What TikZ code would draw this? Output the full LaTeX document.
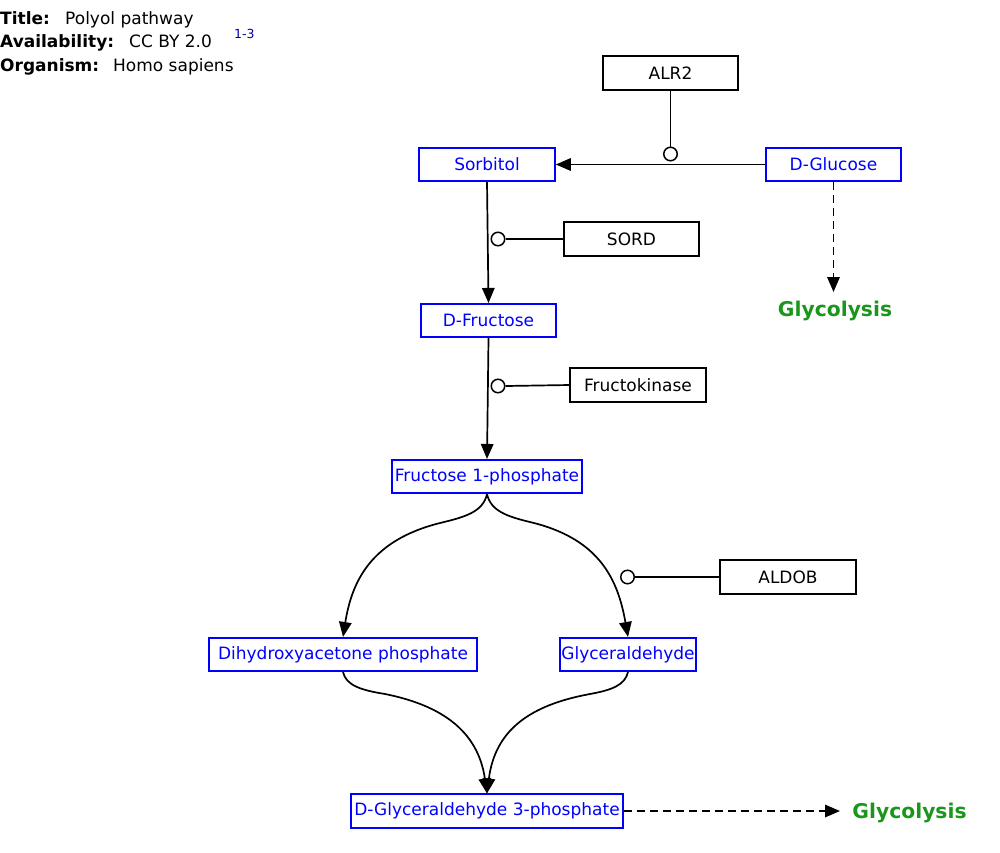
\documentclass[tikz,border=0pt]{standalone}
\usepackage{fontspec}
\setmainfont{DejaVu Sans}
\usetikzlibrary{arrows.meta}
\definecolor{glyco}{RGB}{26,150,26}
\definecolor{refblue}{RGB}{0,0,170}
\begin{document}
\begin{tikzpicture}[x=1pt,y=-1pt,
  metab/.style={draw=blue, text=blue, line width=1.6pt, rectangle, inner sep=0pt,
    minimum height=33.5pt, font=\fontsize{17}{19}\selectfont},
  gene/.style={draw=black, text=black, line width=1.6pt, rectangle, inner sep=0pt,
    minimum width=135.5pt, minimum height=34pt, font=\fontsize{17}{19}\selectfont},
  conv/.style={line width=1.7pt, -{Triangle[length=15pt,width=12.5pt]}},
  dconv/.style={line width=1.7pt, dash pattern=on 8pt off 5pt, -{Triangle[length=15pt,width=12.5pt]}},
  catal/.style={line width=1.7pt},
  modc/.style={circle, draw, fill=white, line width=1.5pt, minimum size=13.5pt, inner sep=0pt},
  lbl/.style={text=glyco, inner sep=0pt, font=\bfseries\fontsize{20.3}{22}\selectfont},
  hdr/.style={anchor=base west, inner sep=0pt, font=\fontsize{17}{19}\selectfont}
]
\useasboundingbox (0,0) rectangle (1000,852);

% header
\node[hdr] (ht) at (0,24) {\textbf{Title:}};
\node[hdr] (htv) at (65,24) {Polyol pathway};
\node[hdr] (ha) at (0,47.5) {\textbf{Availability:}};
\node[hdr] (hav) at (129,47.5) {CC BY 2.0};
\node[hdr, text=refblue, font=\fontsize{12.5}{14}\selectfont] (href) at (234,38.5) {1-3};
\node[hdr] (ho) at (0,71) {\textbf{Organism:}};
\node[hdr] (hov) at (113,71) {Homo sapiens};

% genes
\node[gene] (alr2) at (670.5,73) {ALR2};
\node[gene] (sord) at (631.5,239) {SORD};
\node[gene] (fk) at (638,385) {Fructokinase};
\node[gene] (aldob) at (788,577) {ALDOB};

% metabolites
\node[metab, minimum width=136pt] (sorb) at (487,164.5) {Sorbitol};
\node[metab, minimum width=135.5pt] (glc) at (833.5,164.5) {D-Glucose};
\node[metab, minimum width=135.5pt] (fru) at (488.5,320.5) {D-Fructose};
\node[metab, minimum width=190pt] (f1p) at (487,476.5) {Fructose 1-phosphate};
\node[metab, minimum width=268pt] (dhap) at (343,654.5) {Dihydroxyacetone phosphate};
\node[metab, minimum width=136pt] (gald) at (628,654.5) {Glyceraldehyde};
\node[metab, minimum width=272pt] (g3p) at (487,811) {D-Glyceraldehyde 3-phosphate};

% labels
\node[lbl] (gly1) at (835,311) {Glycolysis};
\node[lbl] (gly2) at (909.5,812.5) {Glycolysis};
\coordinate (gly1end) at (833.5,292);
\coordinate (gly2end) at (840,811);

% conversions
\draw[conv] (glc.west) -- (sorb.east);
\draw[conv] (sorb.south) -- (fru.north);
\draw[conv] (fru.south) -- (f1p.north);
\draw[conv] (f1p.south) .. controls (483,512) and (465,517) .. (440,523)
  .. controls (372,540) and (352,580) .. (dhap.north);
\draw[conv] (f1p.south) .. controls (491,512) and (509,517) .. (534,523)
  .. controls (600,540) and (618,580) .. (gald.north);
\draw[conv] (dhap.south) .. controls (346,685) and (360,690) .. (385,694)
  .. controls (440,705) and (478,730) .. (g3p.north);
\draw[conv] (gald.south) .. controls (625,685) and (612,690) .. (590,694)
  .. controls (530,705) and (495,730) .. (g3p.north);
\draw[dconv] (glc.south) -- (gly1end);
\draw[dconv] (g3p.east) -- (gly2end);

% catalysis
\node[modc] (m1) at (670.5,154) {};
\node[modc] (m2) at (498,239) {};
\node[modc] (m3) at (498,386) {};
\node[modc] (m4) at (627.5,577) {};
\draw[catal] (alr2.south) -- (m1.north);
\draw[catal] (sord.west) -- (m2.east);
\draw[catal] (fk.west) -- (m3.east);
\draw[catal] (aldob.west) -- (m4.east);
\end{tikzpicture}
\end{document}
